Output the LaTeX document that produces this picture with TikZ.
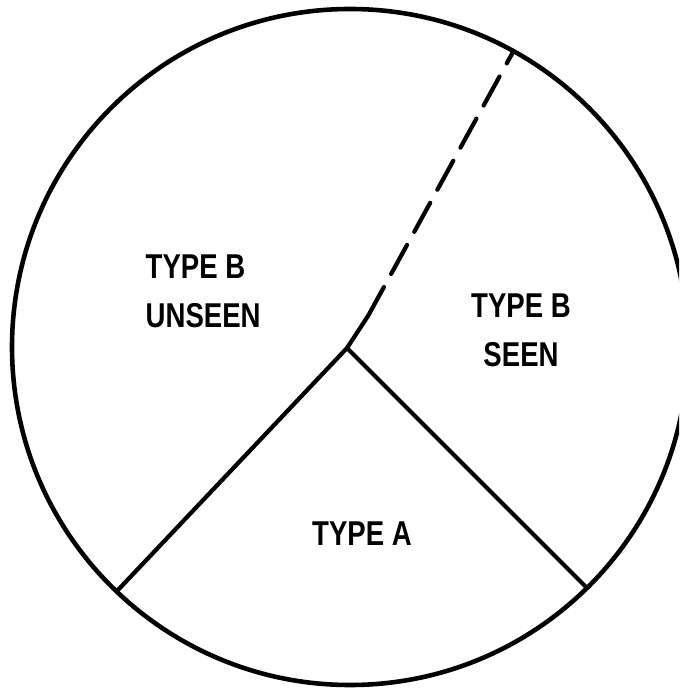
\documentclass[tikz,border=0pt]{standalone}
\usepackage{fontspec}
\setmainfont[FakeStretch=0.8]{Liberation Sans}
\usetikzlibrary{positioning, calc}

\begin{document}
\begin{tikzpicture}[
    x=0.01cm, y=-0.01cm,
    rim/.style={line width=1.3pt},
    border/.style={line width=1.2pt, line cap=round},
    hidden/.style={border, dash pattern=on 0.33cm off 0.15cm},
    label/.style={font=\fontsize{9.8}{14}\selectfont\bfseries, align=center, inner sep=0pt}
]
    % Frame
    \useasboundingbox (0, 0) rectangle (679, 689);
    \clip (0, 0) rectangle (679, 689);

    % Outer circle
    \coordinate (centre) at (350, 347);
    \draw [rim] (centre) circle (338);

    % Dividing lines
    \coordinate (hub) at (347, 348);
    \coordinate (bend) at (368, 316);
    \coordinate (rimA) at (118, 590);
    \coordinate (rimB) at (587, 588);
    \coordinate (rimC) at (513, 52);
    \draw [border] (rimA) -- (hub) -- (rimB);
    \draw [border] (hub) -- (bend);
    \draw [hidden] (bend) -- (rimC);

    % Sector labels
    \node (unseen) [label, align=left, anchor=north west] at (145, 254) {TYPE B\\UNSEEN};
    \node (seen) [label] at (521, 330) {TYPE B\\SEEN};
    \node (typea) [label] at (362, 534) {TYPE A};
\end{tikzpicture}
\end{document}
